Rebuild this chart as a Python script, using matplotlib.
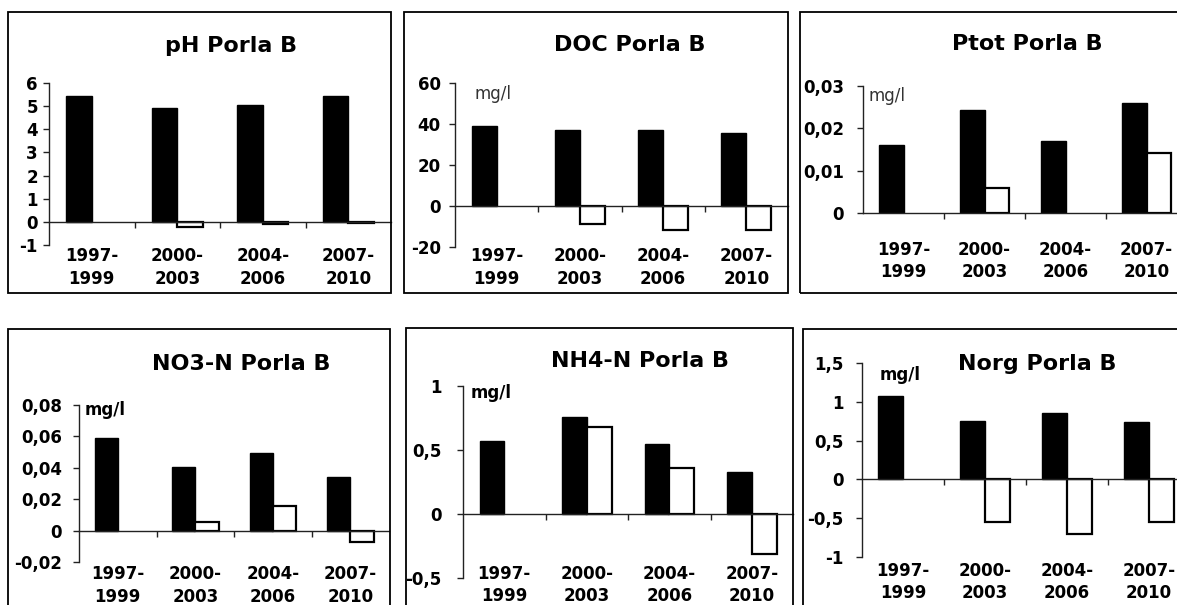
import numpy as np
import matplotlib
matplotlib.use("Agg")
import matplotlib.pyplot as plt
from matplotlib.patches import Rectangle
import matplotlib.transforms as mtransforms

plt.rcParams['font.family'] = ['DejaVu Sans']

# ---------------- data ----------------
periods = ["1997-\n1999", "2000-\n2003", "2004-\n2006", "2007-\n2010"]

titles = ["pH Porla B", "DOC Porla B", "Ptot Porla B",
          "NO3-N Porla B", "NH4-N Porla B", "Norg Porla B"]

ph_black = [5.43, 4.93, 5.04, 5.43]
ph_white = [0.0, -0.23, -0.08, -0.05]

doc_black = [39.0, 37.0, 37.0, 35.5]
doc_white = [0.0, -8.8, -11.7, -11.7]

ptot_black = [0.016, 0.0243, 0.017, 0.026]
ptot_white = [0.0, 0.0058, 0.0, 0.0141]

no3_black = [0.059, 0.0408, 0.0497, 0.0343]
no3_white = [0.0, 0.0055, 0.0154, -0.0072]

nh4_black = [0.567, 0.755, 0.547, 0.325]
nh4_white = [0.0, 0.677, 0.36, -0.312]

norg_black = [1.077, 0.759, 0.858, 0.741]
norg_white = [0.0, -0.552, -0.70, -0.552]

ph_ticks = [-1, 0, 1, 2, 3, 4, 5, 6]
ph_ticklabels = ["-1", "0", "1", "2", "3", "4", "5", "6"]
doc_ticks = [-20, 0, 20, 40, 60]
doc_ticklabels = ["-20", "0", "20", "40", "60"]
ptot_ticks = [0, 0.01, 0.02, 0.03]
ptot_ticklabels = ["0", "0,01", "0,02", "0,03"]
no3_ticks = [-0.02, 0, 0.02, 0.04, 0.06, 0.08]
no3_ticklabels = ["-0,02", "0", "0,02", "0,04", "0,06", "0,08"]
nh4_ticks = [-0.5, 0, 0.5, 1]
nh4_ticklabels = ["-0,5", "0", "0,5", "1"]
norg_ticks = [-1, -0.5, 0, 0.5, 1, 1.5]
norg_ticklabels = ["-1", "-0,5", "0", "0,5", "1", "1,5"]

unit = "mg/l"

# ---------------- layout (pixels) ----------------
W, H = 1177, 605
fig = plt.figure(figsize=(W / 100, H / 100), dpi=100)
fig.patch.set_facecolor("white")


def fx(x):
    return x / W


def fy(y):
    return 1 - y / H


panels = [
    dict(black=ph_black, white=ph_white, ticks=ph_ticks, tl=ph_ticklabels,
         ax=(49, 391, 83, 245), box=(8, 12, 391, 293), title=(231, 52),
         unit=None, lab_y=267.5, pad=5),
    dict(black=doc_black, white=doc_white, ticks=doc_ticks, tl=doc_ticklabels,
         ax=(455, 788, 83, 247), box=(404, 12, 788, 293), title=(630, 51),
         unit=(475, 99, False), lab_y=267.5, pad=8),
    dict(black=ptot_black, white=ptot_white, ticks=ptot_ticks, tl=ptot_ticklabels,
         ax=(863, 1187, 86, 213), box=(800, 12, 1190, 293), title=(1027, 50),
         unit=(868, 101, False), lab_y=261, pad=13),
    dict(black=no3_black, white=no3_white, ticks=no3_ticks, tl=no3_ticklabels,
         ax=(79, 389, 405, 562), box=(8, 329, 390, 620), title=(241, 370),
         unit=(85, 415, True), lab_y=585.5, pad=11),
    dict(black=nh4_black, white=nh4_white, ticks=nh4_ticks, tl=nh4_ticklabels,
         ax=(463, 793, 386, 578), box=(406, 328, 793, 620), title=(640, 367),
         unit=(471, 398, True), lab_y=585, pad=15),
    dict(black=norg_black, white=norg_white, ticks=norg_ticks, tl=norg_ticklabels,
         ax=(862, 1190, 363, 557), box=(803, 329, 1190, 620), title=(1037, 370),
         unit=(880, 380, True), lab_y=582, pad=12),
]

bar_w = 0.30
x = np.arange(len(periods)) + 0.5

for p, title in zip(panels, titles):
    x0, x1, yt, yb = p["ax"]
    ax = fig.add_axes([fx(x0), fy(yb), (x1 - x0) / W, (yb - yt) / H])
    ax.set_facecolor("none")
    ax.set_xlim(0, 4)
    ax.set_ylim(min(p["ticks"]), max(p["ticks"]))
    bb = ax.bar(x - bar_w / 2, p["black"], width=bar_w, color="black",
                edgecolor="black", linewidth=1.0, zorder=2)
    bw = ax.bar(x + bar_w / 2, p["white"], width=bar_w, color="white",
                edgecolor="black", linewidth=1.6, zorder=2)
    for patch, v in zip(list(bb) + list(bw), list(p["black"]) + list(p["white"])):
        if v == 0:
            patch.set_visible(False)
    for s in ("top", "right"):
        ax.spines[s].set_visible(False)
    ax.spines["bottom"].set_position(("data", 0))
    for s in ("left", "bottom"):
        ax.spines[s].set_linewidth(1.0)
        ax.spines[s].set_zorder(3)
        ax.spines[s].set_color("#222222")
    ax.set_yticks(p["ticks"])
    ax.set_yticklabels(p["tl"], fontweight="bold", fontsize=12)
    ax.tick_params(axis="y", direction="out", length=4.5, width=1.0,
                   pad=p["pad"] * 0.72, colors="#222222", labelcolor="black")
    ax.set_xticks([1, 2, 3])
    ax.set_xticklabels(["", "", ""])
    ax.tick_params(axis="x", direction="out", length=4.5, width=1.0,
                   colors="#222222")
    # category labels
    trans = mtransforms.blended_transform_factory(ax.transData, fig.transFigure)
    for xi, lab in zip(x, periods):
        ax.text(xi, fy(p["lab_y"]), lab, transform=trans, ha="center",
                va="center", fontsize=12, fontweight="bold",
                linespacing=1.3, clip_on=False)
    # title
    fig.text(fx(p["title"][0]), fy(p["title"][1]), title, ha="center",
             va="baseline", fontsize=16, fontweight="bold")
    # unit
    if p["unit"] is not None:
        ux, uy, bold = p["unit"]
        fig.text(fx(ux), fy(uy), unit, ha="left", va="baseline",
                 fontsize=12, fontweight="bold" if bold else "normal",
                 color="black" if bold else "#333333")
    # frame
    bx0, by0, bx1, by1 = p["box"]
    fig.add_artist(Rectangle((fx(bx0), fy(by1)), (bx1 - bx0) / W,
                             (by1 - by0) / H, transform=fig.transFigure,
                             fill=False, edgecolor="black", linewidth=1.3))

fig.savefig("out.png", dpi=100, facecolor="white")
